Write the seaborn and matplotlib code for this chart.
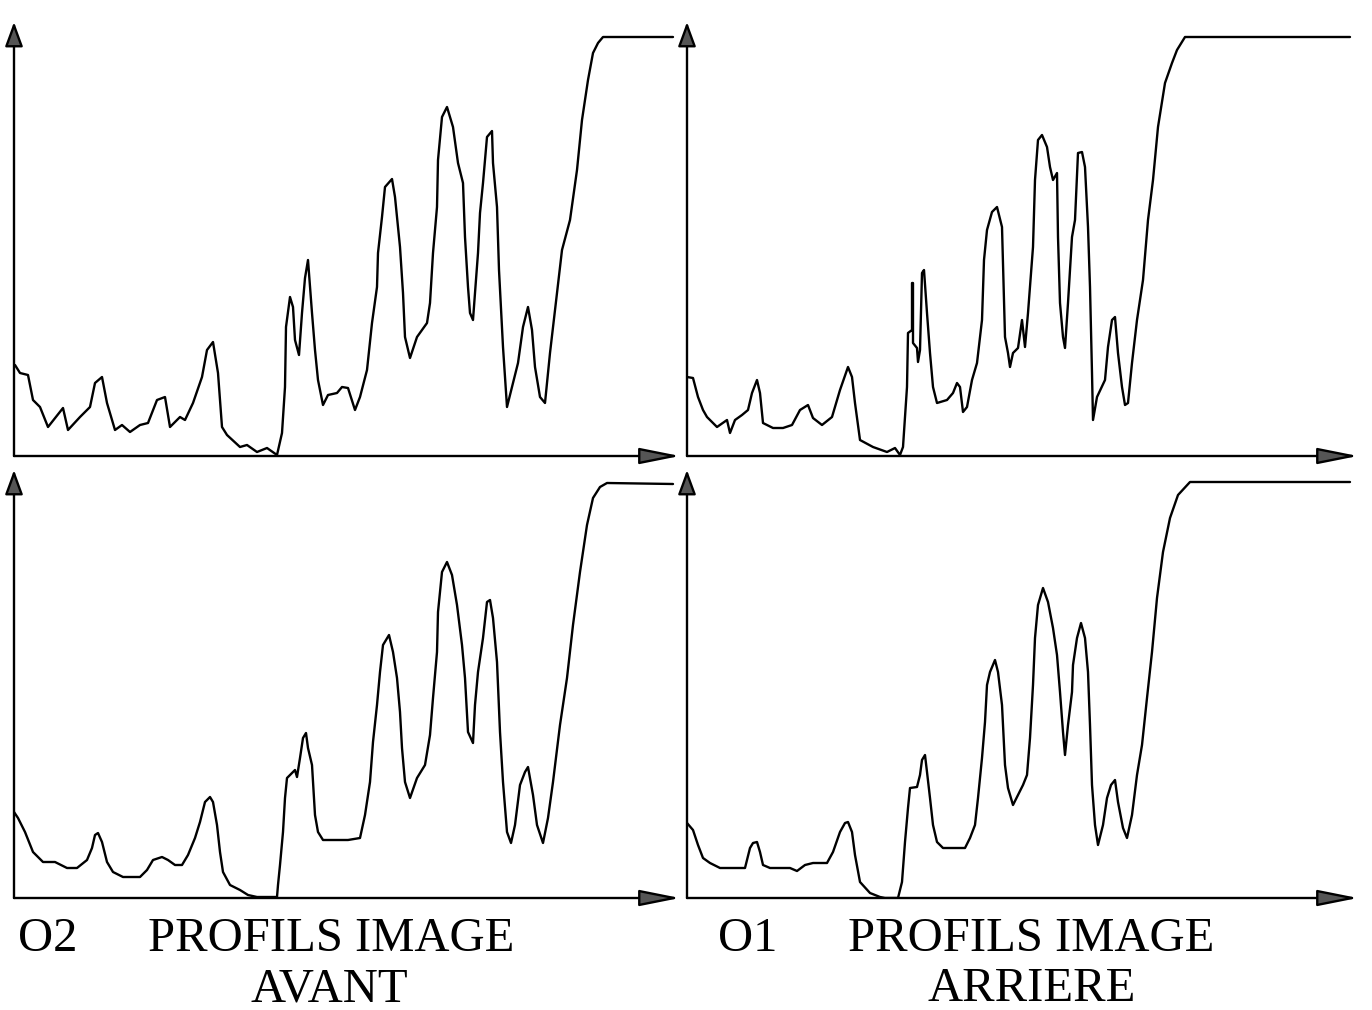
import numpy as np
import pandas as pd
import seaborn as sns
import matplotlib.pyplot as plt

# Profiles: position along the line (pixels from the y axis)
# and grey level (pixels above the x axis). Plateau = saturation.
front_top_x = [1, 6, 14, 19, 26, 34, 49, 54, 66, 76, 81, 88, 93, 101, 108, 116, 126, 134, 143, 151,
               156, 166, 171, 179, 188, 193, 199, 204, 208, 213, 226, 233, 243, 253, 263, 268, 271, 272,
               276, 279, 281, 285, 288, 291, 294, 298, 301, 304, 309, 314, 323, 328, 334, 341, 346, 353,
               358, 363, 364, 368, 371, 378, 381, 386, 389, 391, 396, 403, 413, 416, 419, 423, 424, 428,
               433, 439, 444, 449, 451, 454, 456, 459, 461, 464, 466, 469, 473, 478, 479, 483, 485, 489,
               493, 498, 504, 509, 514, 518, 521, 526, 531, 536, 543, 548, 556, 563, 568, 574, 579, 584,
               589, 659]
front_top_y = [91, 83, 81, 56, 49, 29, 48, 26, 39, 49, 73, 79, 53, 26, 31, 24, 31, 33, 56, 59,
               29, 39, 36, 53, 79, 106, 114, 83, 29, 21, 9, 11, 4, 8, 1, 23, 69, 129,
               159, 149, 116, 101, 143, 178, 196, 143, 106, 76, 51, 61, 63, 69, 68, 46, 59, 86,
               133, 169, 203, 239, 269, 277, 259, 209, 163, 119, 98, 119, 133, 153, 203, 249, 296, 339,
               349, 329, 293, 273, 219, 169, 143, 136, 163, 203, 243, 273, 319, 325, 293, 249, 186, 109,
               49, 69, 93, 129, 149, 126, 89, 59, 53, 103, 163, 206, 236, 286, 336, 376, 403, 413,
               419, 419]

rear_top_x = [0, 6, 11, 16, 20, 30, 40, 43, 48, 55, 61, 65, 70, 73, 76, 86, 96, 105, 113, 121,
              126, 135, 145, 153, 161, 165, 168, 173, 186, 200, 208, 213, 216, 220, 221, 225, 225, 226,
              226, 230, 231, 233, 235, 237, 240, 243, 246, 250, 260, 266, 270, 273, 276, 280, 285, 290,
              295, 297, 300, 305, 310, 315, 318, 321, 323, 326, 331, 335, 338, 341, 346, 348, 351, 355,
              360, 363, 366, 370, 371, 373, 376, 378, 381, 385, 388, 391, 395, 398, 401, 403, 405, 406,
              410, 418, 421, 425, 428, 431, 435, 438, 441, 445, 450, 456, 461, 466, 471, 478, 485, 490,
              498, 663]
rear_top_y = [79, 78, 59, 46, 39, 29, 36, 23, 36, 41, 46, 63, 76, 63, 33, 28, 28, 31, 46, 51,
              38, 31, 39, 66, 89, 79, 53, 16, 9, 4, 8, 1, 9, 69, 123, 126, 173, 173,
              113, 108, 94, 106, 183, 186, 143, 103, 69, 53, 56, 63, 73, 69, 44, 49, 76, 93,
              136, 196, 226, 244, 249, 229, 119, 103, 89, 103, 108, 136, 109, 143, 209, 276, 316, 321,
              309, 289, 276, 283, 219, 153, 119, 108, 153, 219, 236, 303, 304, 289, 229, 169, 83, 36,
              59, 76, 109, 136, 139, 103, 69, 51, 53, 93, 136, 176, 236, 276, 329, 373, 393, 406,
              419, 419]

front_bot_x = [0, 4, 11, 19, 29, 41, 53, 63, 73, 78, 81, 84, 88, 93, 99, 109, 126, 133, 139, 148,
               154, 161, 168, 174, 181, 186, 191, 196, 199, 203, 206, 209, 216, 226, 234, 243, 263, 264,
               266, 269, 271, 273, 278, 281, 283, 286, 289, 292, 294, 298, 301, 304, 309, 334, 346, 351,
               356, 359, 363, 366, 369, 375, 379, 383, 386, 388, 391, 396, 403, 411, 416, 419, 423, 424,
               428, 433, 438, 443, 448, 451, 454, 459, 461, 464, 469, 473, 476, 479, 483, 486, 489, 493,
               497, 501, 506, 511, 514, 519, 523, 529, 534, 539, 546, 553, 559, 566, 573, 579, 586, 593,
               659]
front_bot_y = [86, 80, 66, 46, 36, 36, 30, 30, 38, 50, 63, 65, 56, 36, 26, 21, 21, 28, 38, 41,
               38, 33, 33, 43, 60, 76, 96, 101, 96, 73, 46, 26, 13, 8, 3, 1, 1, 13,
               33, 66, 100, 120, 125, 128, 121, 140, 160, 165, 150, 133, 83, 66, 58, 58, 60, 83,
               116, 156, 193, 226, 253, 263, 246, 220, 186, 150, 116, 100, 120, 133, 163, 200, 246, 286,
               326, 336, 323, 293, 253, 220, 166, 155, 193, 226, 260, 296, 298, 280, 236, 166, 116, 66,
               55, 73, 113, 126, 131, 103, 73, 55, 80, 116, 173, 220, 273, 326, 373, 400, 411, 415,
               414]

rear_bot_x = [0, 6, 11, 16, 23, 33, 58, 63, 66, 70, 73, 76, 83, 103, 110, 118, 126, 140, 146, 153,
              158, 161, 165, 168, 173, 183, 193, 198, 211, 215, 218, 221, 223, 230, 233, 235, 238, 240,
              243, 246, 250, 256, 278, 283, 288, 291, 295, 298, 300, 303, 308, 311, 315, 318, 321, 326,
              331, 336, 340, 343, 346, 348, 351, 356, 361, 366, 370, 373, 376, 378, 381, 385, 386, 390,
              394, 398, 401, 403, 405, 408, 411, 416, 420, 424, 428, 431, 436, 440, 445, 450, 455, 460,
              465, 470, 476, 483, 491, 503, 663]
rear_bot_y = [75, 68, 53, 40, 35, 30, 30, 50, 55, 56, 46, 33, 30, 30, 27, 33, 35, 35, 46, 66,
              75, 76, 66, 43, 16, 5, 1, 0, 0, 16, 56, 90, 110, 111, 123, 138, 143, 126,
              100, 73, 56, 50, 50, 60, 73, 100, 140, 176, 213, 226, 238, 226, 193, 133, 110, 93,
              103, 113, 123, 160, 213, 260, 293, 310, 296, 270, 243, 206, 166, 143, 173, 206, 233, 260,
              275, 260, 226, 173, 113, 73, 53, 73, 100, 113, 118, 96, 70, 60, 83, 123, 153, 200,
              246, 300, 346, 380, 403, 416, 416]

captions = [("O2", "PROFILS IMAGE", "AVANT"), ("O1", "PROFILS IMAGE", "ARRIERE")]

sns.set_style("white")
plt.rcParams["font.family"] = ["Liberation Serif", "DejaVu Serif"]
plt.rcParams["text.color"] = "black"

W, H = 1372, 1010
fig = plt.figure(figsize=(W / 100, H / 100), dpi=100)

# (axis x, axis y, y-arrow tip, x-arrow tip) in pixels of the page
panels = [
    (front_top_x, front_top_y, 14, 456, 22, 680),
    (rear_top_x, rear_top_y, 687, 456, 22, 1358),
    (front_bot_x, front_bot_y, 14, 898, 470, 680),
    (rear_bot_x, rear_bot_y, 687, 898, 470, 1358),
]

for xs, ys, x0, y0, ytop, xend in panels:
    ax = fig.add_axes([x0 / W, 1 - y0 / H, (xend - x0) / W, (y0 - ytop) / H])
    ax.set_xlim(0, xend - x0)
    ax.set_ylim(0, y0 - ytop)
    df = pd.DataFrame({"pos": xs, "level": ys})
    sns.lineplot(data=df, x="pos", y="level", ax=ax, sort=False, estimator=None,
                 color="black", linewidth=1.7)
    ax.set_axis_off()
    # axes drawn as arrows
    ax.annotate("", xy=(1, 0), xytext=(0, 0), xycoords="axes fraction",
                arrowprops=dict(arrowstyle="-|>,head_length=2.5,head_width=0.5",
                                mutation_scale=10, lw=1.7, fc="#555555", ec="black",
                                shrinkA=0, shrinkB=0))
    ax.annotate("", xy=(0, 1), xytext=(0, 0), xycoords="axes fraction",
                arrowprops=dict(arrowstyle="-|>,head_length=1.5,head_width=0.55",
                                mutation_scale=10, lw=1.7, fc="#555555", ec="black",
                                shrinkA=0, shrinkB=0))

for (tag, line1, line2), (xtag, xl1, xl2) in zip(captions, [(18, 148, 329), (718, 848, 1032)]):
    fig.text(xtag / W, 1 - 939 / H, tag, fontsize=35, va="center", ha="left", color="black")
    fig.text(xl1 / W, 1 - 939 / H, line1, fontsize=35, va="center", ha="left", color="black")
    fig.text(xl2 / W, 1 - 989 / H, line2, fontsize=35, va="center", ha="center", color="black")

fig.savefig("out.png", dpi=100, facecolor="white")
